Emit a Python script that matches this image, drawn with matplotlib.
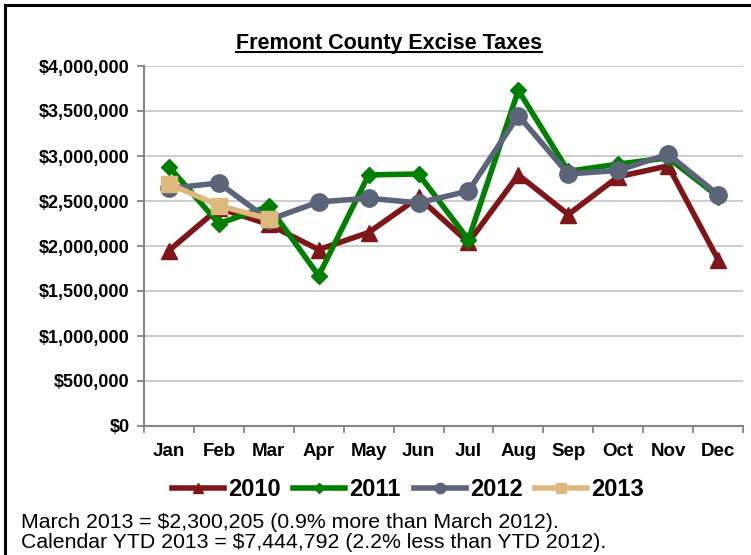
import numpy as np
import matplotlib
matplotlib.use("Agg")
import matplotlib.pyplot as plt
from matplotlib.lines import Line2D
from matplotlib.patches import Rectangle
from matplotlib.ticker import FuncFormatter, FixedLocator

plt.rcParams['font.family'] = ['Liberation Sans', 'DejaVu Sans']

months = ['Jan', 'Feb', 'Mar', 'Apr', 'May', 'Jun', 'Jul', 'Aug', 'Sep', 'Oct', 'Nov', 'Dec']
tax_2010 = [1950000, 2420000, 2240000, 1960000, 2150000, 2540000, 2040000, 2790000, 2350000, 2770000, 2890000, 1850000]
tax_2011 = [2880000, 2250000, 2440000, 1670000, 2790000, 2800000, 2070000, 3730000, 2830000, 2910000, 2980000, 2550000]
tax_2012 = [2640000, 2700000, 2290000, 2490000, 2530000, 2480000, 2610000, 3450000, 2800000, 2840000, 3020000, 2570000]
tax_2013 = [2690000, 2450000, 2300205]

series = [
    ('2010', tax_2010, '#7F1517', '^', 12),
    ('2011', tax_2011, '#008000', 'D', 8.5),
    ('2012', tax_2012, '#5B6479', 'o', 12.5),
    ('2013', tax_2013, '#DDB97D', 's', 11.5),
]

fig = plt.figure(figsize=(7.51, 5.55), dpi=100)
ax = fig.add_axes([144 / 751, 1 - 426 / 555, 599 / 751, 360 / 555])

x = np.arange(len(months))
handles = []
for name, vals, col, mk, ms in series:
    h, = ax.plot(x[:len(vals)], vals, color=col, lw=4.0, marker=mk, ms=ms,
                 mec=col, mfc=col, label=name, solid_joinstyle='miter')
    handles.append(h)

ax.set_xlim(-0.5, 11.5)
ax.set_ylim(0, 4000000)
ax.set_yticks(np.arange(0, 4000001, 500000))
ax.yaxis.set_major_formatter(FuncFormatter(lambda v, p: '${:,.0f}'.format(v)))
ax.set_xticks(x)
ax.set_xticklabels(months)
ax.xaxis.set_minor_locator(FixedLocator(np.arange(-0.5, 12, 1)))
ax.tick_params(axis='x', which='major', length=0, pad=12)
ax.tick_params(axis='x', which='minor', length=5, color='#868686', width=1.3)
ax.tick_params(axis='y', length=5, color='#868686', width=1.3, pad=5.5)
for lab in ax.get_xticklabels():
    lab.set_fontweight('bold')
    lab.set_fontsize(13.5)
for lab in ax.get_yticklabels():
    lab.set_fontweight('bold')
    lab.set_fontsize(13)

ax.grid(axis='y', color='#C8C8C8', lw=1.3)
ax.set_axisbelow(True)
for s in ['top', 'right']:
    ax.spines[s].set_visible(False)
for s in ['left', 'bottom']:
    ax.spines[s].set_color('#868686')
    ax.spines[s].set_linewidth(1.5)

leg = fig.legend(handles=handles, loc='center', bbox_to_anchor=(408 / 751, 1 - 490 / 555),
                 ncol=4, frameon=False, handlelength=2.2, handletextpad=0.17,
                 columnspacing=0.55, prop={'weight': 'bold', 'size': 17}, markerscale=0.6)

title = fig.text(389 / 751, 1 - 43 / 555, 'Fremont County Excise Taxes', ha='center', va='center',
                 fontsize=15.5, fontweight='bold')

fig.text(21 / 751, 1 - 522 / 555, 'March 2013 = $2,300,205 (0.9% more than March 2012).',
         ha='left', va='center', fontsize=15.3)
fig.text(21 / 751, 1 - 543 / 555, 'Calendar YTD 2013 = $7,444,792 (2.2% less than YTD 2012).',
         ha='left', va='center', fontsize=15.3)

# frame around the chart
fig.patches.append(Rectangle((5 / 751, -0.1), 1.2, 1 - 5 / 555 + 0.1, transform=fig.transFigure,
                             fill=False, ec='black', lw=2.2))

# underline title
fig.canvas.draw()
bb = title.get_window_extent().transformed(fig.transFigure.inverted())
fig.add_artist(Line2D([bb.x0, bb.x1], [bb.y0 + 0.002, bb.y0 + 0.002], transform=fig.transFigure,
                      color='black', lw=1.5))

fig.savefig('out.png', dpi=100)
